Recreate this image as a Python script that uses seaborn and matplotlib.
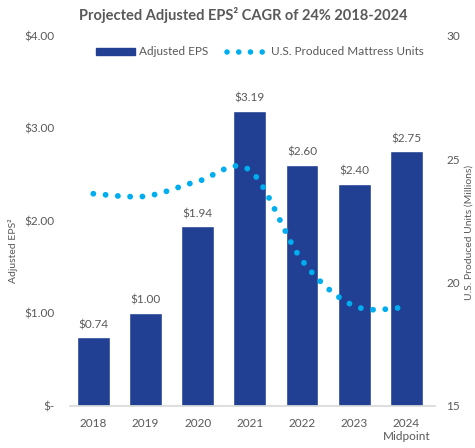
import numpy as np
import pandas as pd
import matplotlib
matplotlib.use("Agg")
import matplotlib.pyplot as plt
from matplotlib.path import Path
from matplotlib.patches import PathPatch, Patch
from matplotlib.lines import Line2D
import seaborn as sns

# data
years = ["2018", "2019", "2020", "2021", "2022", "2023", "2024\nMidpoint"]
eps = [0.74, 1.00, 1.94, 3.19, 2.60, 2.40, 2.75]
mattress_units = [23.6, 23.5, 24.1, 24.55, 20.9, 19.05, 19.0]

bar_color = "#213F93"
dot_color = "#00AEEF"
text_color = "#595959"

sns.set_theme(style="white")
plt.rcParams["font.family"] = ["Lato", "DejaVu Sans"]

df = pd.DataFrame({"year": years, "eps": eps, "units": mattress_units})

fig = plt.figure(figsize=(4.75, 4.48), dpi=100)
ax = fig.add_axes([0.147, 0.094, 0.769, 0.826])

sns.barplot(data=df, x="year", y="eps", color=bar_color, width=0.63,
            saturation=1, ax=ax)
ax.set_ylim(0, 4)
ax.set_yticks([0, 1, 2, 3, 4])
ax.set_yticklabels(["$-", "$1.00", "$2.00", "$3.00", "$4.00"])
ax.set_xlabel("")
ax.set_ylabel("Adjusted EPS²", fontsize=7.5, color=text_color)
ax.yaxis.set_label_coords(-0.142, 0.42)
ax.tick_params(axis="both", length=0, labelsize=8.5, colors=text_color)
ax.tick_params(axis="y", pad=11)
ax.tick_params(axis="x", pad=9)
for s in ["top", "left", "right"]:
    ax.spines[s].set_visible(False)
ax.spines["bottom"].set_color("#D9D9D9")
ax.set_xlim(-0.45, 6.55)

for i, v in enumerate(eps):
    ax.text(i, v + 0.08, f"${v:.2f}", ha="center", va="bottom",
            fontsize=8.5, color=text_color)

# right axis: mattress units, smoothed dotted line
ax2 = ax.twinx()
ax2.set_ylim(15, 30)
ax2.set_yticks([15, 20, 25, 30])
ax2.tick_params(axis="y", length=0, labelsize=8.5, colors=text_color, pad=8)
for s in ax2.spines.values():
    s.set_visible(False)
ax2.set_ylabel("U.S. Produced Units (Millions)", fontsize=7.5, color=text_color)
ax2.yaxis.set_label_coords(1.08, 0.47)

xs = np.arange(len(mattress_units), dtype=float)
ys = np.array(mattress_units)
verts = [(xs[0], ys[0])]
codes = [Path.MOVETO]
for i in range(len(xs) - 1):
    p0 = (xs[max(i - 1, 0)], ys[max(i - 1, 0)])
    p1 = (xs[i], ys[i])
    p2 = (xs[i + 1], ys[i + 1])
    p3 = (xs[min(i + 2, len(xs) - 1)], ys[min(i + 2, len(xs) - 1)])
    t = 1 / 6
    c1 = (p1[0] + (p2[0] - p0[0]) * t, p1[1] + (p2[1] - p0[1]) * t)
    c2 = (p2[0] - (p3[0] - p1[0]) * t, p2[1] - (p3[1] - p1[1]) * t)
    verts += [c1, c2, p2]
    codes += [Path.CURVE4] * 3
patch = PathPatch(Path(verts, codes), facecolor="none", edgecolor=dot_color,
                  linewidth=4.2, linestyle=(0, (0.01, 2.1)),
                  capstyle="round")
ax2.add_patch(patch)

dots = Line2D([0], [0], color=dot_color, lw=4, linestyle=(0, (0.01, 2.1)),
              label="U.S. Produced Mattress Units")
dots.set_dash_capstyle("round")
handles = [Patch(color=bar_color, label="Adjusted EPS"), dots]
leg = ax.legend(handles=handles, loc="upper center", bbox_to_anchor=(0.52, 1.0),
                ncol=2, frameon=False, fontsize=8.5, handlelength=3.3,
                handleheight=0.5, columnspacing=1.6, handletextpad=0.4)
for t in leg.get_texts():
    t.set_color(text_color)

fig.suptitle("Projected Adjusted EPS² CAGR of 24% 2018-2024", x=0.512, y=0.985,
             fontsize=10.5, fontweight="bold", color=text_color)

fig.savefig("out.png", dpi=100)
